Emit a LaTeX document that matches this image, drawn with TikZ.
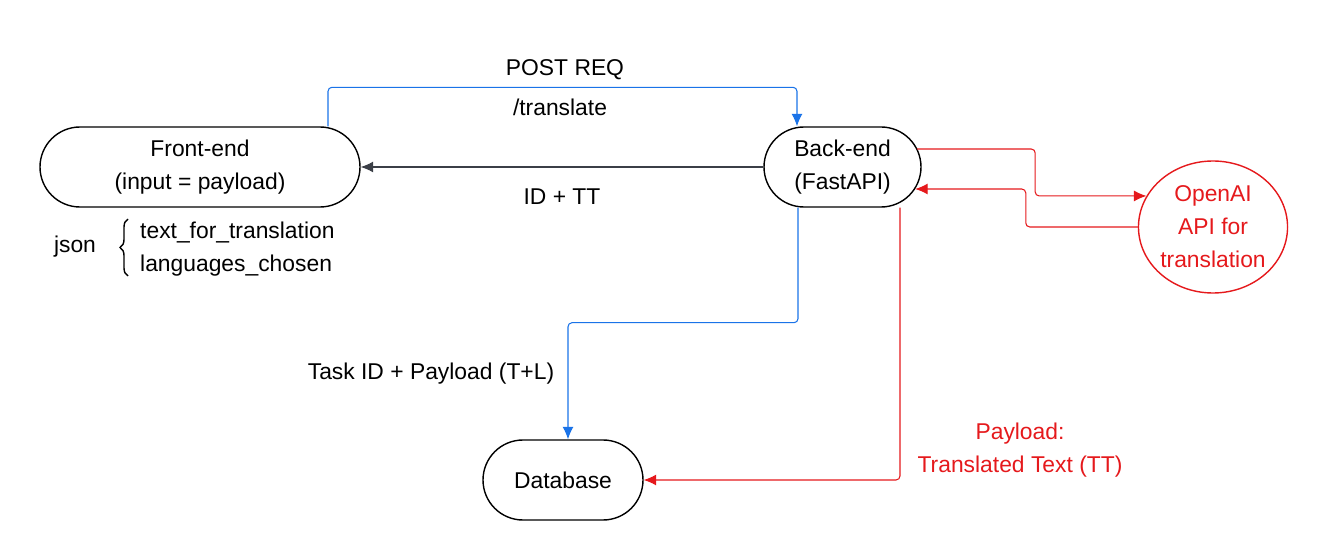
\documentclass[tikz,border=0pt]{standalone}
\usepackage{fontspec}
\setmainfont{Liberation Sans}
\usepackage{tikz}
\usetikzlibrary{arrows.meta,positioning,shapes.geometric,decorations.pathreplacing}
\definecolor{reqblue}{HTML}{1A73E8}
\definecolor{apired}{HTML}{E5191C}
\definecolor{respgray}{HTML}{3B3F47}

\begin{document}
\begin{tikzpicture}[>={Latex[length=2.5mm,width=2.2mm]},
  font=\fontsize{13}{18.8}\selectfont,
  pill/.style={draw,thick,rounded corners=0.8cm,minimum height=1.6cm,align=center},
  api/.style={draw=apired,thick,ellipse,minimum width=2.96cm,minimum height=2.64cm,inner sep=0pt,align=center,text=apired},
  req/.style={draw=reqblue,line width=0.6pt,rounded corners=0.08cm},
  resp/.style={draw=respgray,line width=0.6pt},
  call/.style={draw=apired,line width=0.6pt,rounded corners=0.08cm}]
\useasboundingbox (0,0) rectangle (26.56,-11.18);
\node[pill,minimum width=6.4cm] (fe) at (4.0,-3.34) {Front-end\\(input = payload)};
\node[pill,minimum width=3.14cm] (be) at (16.85,-3.34) {Back-end\\(FastAPI)};
\node[pill,minimum width=3.2cm] (db) at (11.26,-9.6) {Database};
\node[api] (ai) at (24.26,-4.54) {OpenAI\\API for\\translation};
% json payload
\node[anchor=west,align=left] (fields) at (2.68,-4.98) {text\_for\_translation\\languages\_chosen};
\node (json) at (1.5,-4.94) {json};
\draw[line width=0.8pt,decorate,decoration={brace,amplitude=0.16cm}] (2.56,-5.52) -- (2.56,-4.38);
% connectors
\draw[req,->] ([xshift=2.56cm]fe.north) -- ++(0,0.78) -| ([xshift=-0.91cm]be.north);
\node (post) at (11.3,-1.4) {POST REQ};
\node (route) at (11.2,-2.14) {/translate};
\draw[resp,->] (be.west) -- (fe.east);
\node (idtt) at (11.24,-3.94) {ID + TT};
\draw[req,->] ([xshift=-0.89cm]be.south) -- ++(0,-2.3) -| ([xshift=0.1cm]db.north);
\node (task) at (8.62,-7.48) {Task ID + Payload (T+L)};
\draw[call,->] ([xshift=1.15cm]be.south) |- (db.east);
\node[text=apired,align=center] (tt) at (20.4,-9.01) {Payload:\\Translated Text (TT)};
\draw[call,->] ([xshift=-0.09cm,yshift=0.36cm]be.east) -- ++(2.36,0) |- (ai.155);
\draw[call,->] (ai.west) -- ++(-2.24,0) |- ([xshift=-0.13cm,yshift=-0.44cm]be.east);
\end{tikzpicture}
\end{document}
